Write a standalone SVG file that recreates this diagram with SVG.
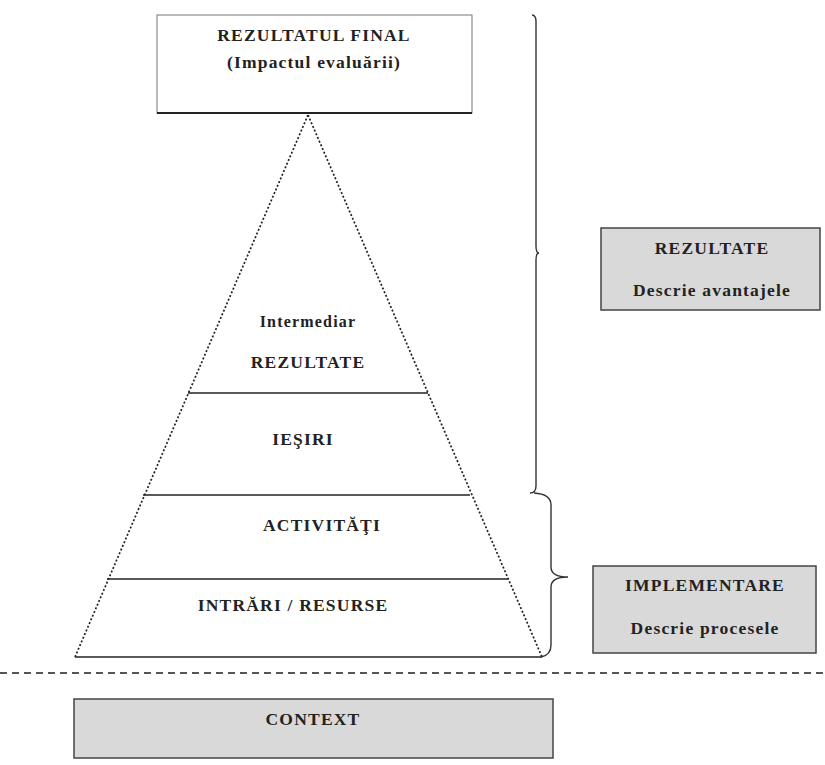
<svg xmlns="http://www.w3.org/2000/svg" width="825" height="765" viewBox="0 0 825 765">
<style>
text{font-family:"Liberation Serif","Times New Roman",serif;font-weight:bold;fill:#222;text-anchor:middle;letter-spacing:1.2px}
.t{font-size:17.5px}
.s{font-size:16px}
.dot{stroke:#222;stroke-width:1.7;stroke-dasharray:2 2;fill:none}
.sol{stroke:#222;stroke-width:1.6;fill:none}
.br{stroke:#333;stroke-width:1.4;fill:none}
.gray{fill:#d9d9d9;stroke:#444;stroke-width:1.5}
</style>
<rect width="825" height="765" fill="#fff"/>
<g id="final">
<rect x="157" y="15" width="315" height="98" fill="#fff" stroke="#777" stroke-width="1"/>
<line x1="157" y1="113" x2="472" y2="113" stroke="#222" stroke-width="2"/>
<text class="t" x="314" y="41">REZULTATUL  FINAL</text>
<text class="t" x="314" y="68">(Impactul evaluării)</text>
</g>
<g id="pyramid">
<line class="dot" x1="308" y1="115" x2="75" y2="657"/>
<line class="dot" x1="308" y1="115" x2="542" y2="657"/>
<line class="sol" x1="75" y1="657" x2="542" y2="657"/>
</g>
<g id="intermediar">
<line class="sol" x1="188" y1="393" x2="428" y2="393"/>
<text class="s" x="308" y="327">Intermediar</text>
<text class="t" x="308" y="368">REZULTATE</text>
</g>
<g id="iesiri">
<line class="sol" x1="143" y1="495" x2="470" y2="495"/>
<text class="t" x="303" y="445">IEŞIRI</text>
</g>
<g id="activitati">
<line class="sol" x1="107" y1="579" x2="508" y2="579"/>
<text class="t" x="322" y="531">ACTIVITĂŢI</text>
</g>
<g id="intrari">
<text class="t" x="293" y="611">INTRĂRI / RESURSE</text>
</g>
<g id="connectors">
<path class="br" d="M532 15 Q536 15 536 22 L536 246 Q536 253 539 253 Q536 253 536 260 L536 486 Q536 493 530 493"/>
<path class="br" d="M534 493 Q551 494 551 505 L551 567 Q551 577 568 577 Q551 577 551 587 L551 645 Q551 655 541 657"/>
<line x1="0" y1="673" x2="825" y2="673" stroke="#555" stroke-width="2" stroke-dasharray="7 5"/>
</g>
<g id="rezultate">
<rect class="gray" x="601" y="228" width="219" height="82"/>
<text class="t" x="712" y="254">REZULTATE</text>
<text class="t" x="712" y="296">Descrie avantajele</text>
</g>
<g id="implementare">
<rect class="gray" x="593" y="566" width="223" height="87"/>
<text class="t" x="705" y="591">IMPLEMENTARE</text>
<text class="t" x="705" y="634">Descrie procesele</text>
</g>
<g id="context">
<rect class="gray" x="74" y="699" width="479" height="59"/>
<text class="t" x="313" y="725">CONTEXT</text>
</g>
</svg>
